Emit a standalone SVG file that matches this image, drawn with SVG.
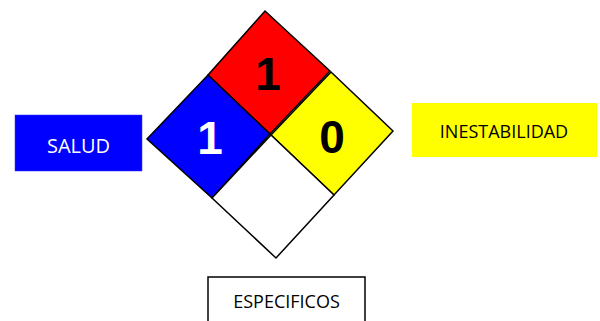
<svg xmlns="http://www.w3.org/2000/svg" width="600" height="321" viewBox="0 0 600 321">
<style>
.q{stroke:#000;stroke-width:1.5;stroke-linejoin:miter}
.num{font-family:"Liberation Sans",Arial,sans-serif;font-weight:bold;font-size:46px;text-anchor:middle}
.lbl{font-family:"Open Sans","Noto Sans",sans-serif;font-size:18px;text-anchor:middle}
</style>
<rect width="600" height="321" fill="#fff"/>
<g id="salud">
<rect x="15" y="115" width="127" height="56" fill="#0000ff" stroke="#3333ff" stroke-width="0.5"/>
<text class="lbl" x="78.5" y="153" fill="#fff" style="font-size:20px">SALUD</text>
</g>
<g id="inestabilidad">
<rect x="412" y="103" width="185" height="54" fill="#ffff00"/>
<text class="lbl" x="504" y="138" fill="#000">INESTABILIDAD</text>
</g>
<g id="especificos">
<rect x="208" y="277" width="157" height="50" fill="#fff" stroke="#000" stroke-width="1.5"/>
<text class="lbl" x="286.5" y="308" fill="#000">ESPECIFICOS</text>
</g>
<g id="rombo">
<g id="inflamabilidad">
<polygon class="q" points="265,11 330,71 270,134 208,75" fill="#ff0000"/>
<text class="num" x="268" y="90" fill="#000">1</text>
</g>
<g id="salud-rombo">
<polygon class="q" points="208,75 270,134 212,198 147,139" fill="#0000ff"/>
<text class="num" x="210" y="154" fill="#fff">1</text>
</g>
<g id="inestabilidad-rombo">
<polygon class="q" points="331,72 393,131 334,195 271,135" fill="#ffff00"/>
<text class="num" x="332" y="153" fill="#000">0</text>
</g>
<g id="especificos-rombo">
<polygon class="q" points="271,135 334,195 276,258 212,198" fill="#fff"/>
</g>
</g>
<g id="connectors"/>
</svg>
